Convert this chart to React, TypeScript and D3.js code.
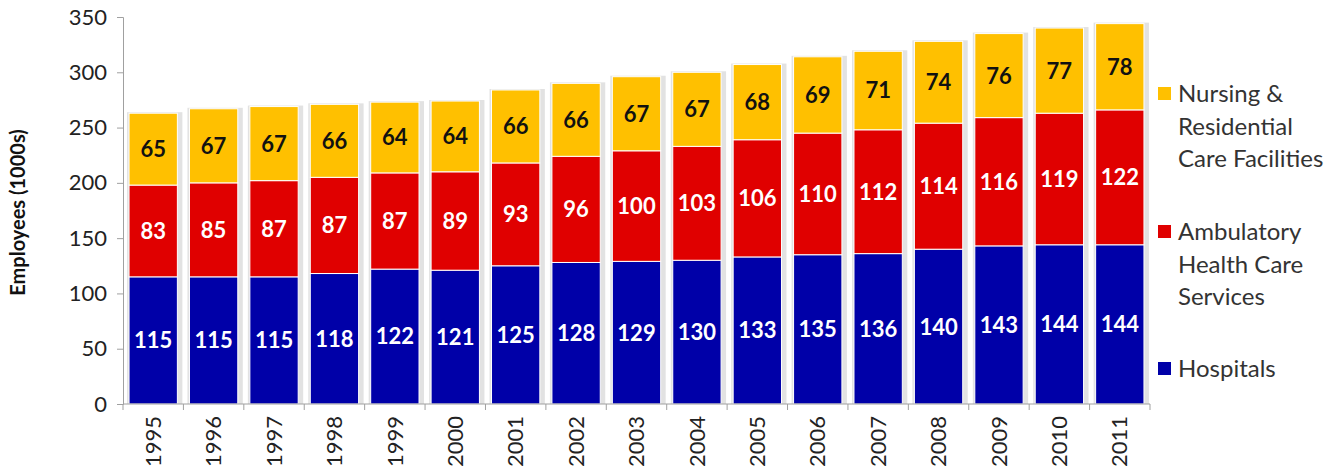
import React, { useRef, useEffect } from 'react';
import * as d3 from 'd3';

const years = ['1995', '1996', '1997', '1998', '1999', '2000', '2001', '2002', '2003', '2004', '2005', '2006', '2007', '2008', '2009', '2010', '2011'];
const hospitals = [115, 115, 115, 118, 122, 121, 125, 128, 129, 130, 133, 135, 136, 140, 143, 144, 144];
const ambulatory = [83, 85, 87, 87, 87, 89, 93, 96, 100, 103, 106, 110, 112, 114, 116, 119, 122];
const nursing = [65, 67, 67, 66, 64, 64, 66, 66, 67, 67, 68, 69, 71, 74, 76, 77, 78];
const yTicks = [0, 50, 100, 150, 200, 250, 300, 350];

const seriesKeys = ['hospitals', 'ambulatory', 'nursing'];
const seriesColors = ['#0000a8', '#e00000', '#ffc000'];
const labelColors = ['#ffffff', '#ffffff', '#111111'];
const legendLines = [
  ['Nursing &', 'Residential', 'Care Facilities'],
  ['Ambulatory', 'Health Care', 'Services'],
  ['Hospitals'],
];

const App = () => {
  const Svg = useRef<SVGSVGElement>(null);
  useEffect(() => {
    const width = 1339;
    const height = 475;
    const left = 123;
    const right = 1150;
    const top = 17;
    const bottom = 404;
    const font = 'Lato, "Open Sans", sans-serif';

    const svg = d3.select(Svg.current).attr('width', width).attr('height', height);
    svg.selectAll('*').remove();

    const table = years.map((y, i) => ({
      year: y,
      hospitals: hospitals[i],
      ambulatory: ambulatory[i],
      nursing: nursing[i],
    }));
    const stacked = d3.stack<any>().keys(seriesKeys)(table);

    const x = d3.scaleBand().domain(years).range([left, right]).paddingInner(0.2).paddingOuter(0.1);
    const y = d3.scaleLinear().domain([0, 350]).range([bottom, top]);

    // soft shadow round each bar
    svg
      .append('g')
      .selectAll('rect')
      .data(table)
      .enter()
      .append('rect')
      .attr('x', (d) => x(d.year)! - 2)
      .attr('y', (d) => y(d.hospitals + d.ambulatory + d.nursing) - 1)
      .attr('width', x.bandwidth() + 7)
      .attr('height', (d) => bottom - y(d.hospitals + d.ambulatory + d.nursing) + 1)
      .attr('fill', '#e2e2e2');

    stacked.forEach((layer, li) => {
      const g = svg.append('g');
      g.selectAll('rect')
        .data(layer)
        .enter()
        .append('rect')
        .attr('x', (d: any) => x(d.data.year)!)
        .attr('y', (d) => y(d[1]))
        .attr('width', x.bandwidth())
        .attr('height', (d) => y(d[0]) - y(d[1]))
        .attr('fill', seriesColors[li])
        .attr('stroke', '#ffffff')
        .attr('stroke-width', 1);
      g.selectAll('text')
        .data(layer)
        .enter()
        .append('text')
        .text((d) => d[1] - d[0])
        .attr('x', (d: any) => x(d.data.year)! + x.bandwidth() / 2)
        .attr('y', (d) => (y(d[0]) + y(d[1])) / 2)
        .attr('dy', '0.36em')
        .attr('text-anchor', 'middle')
        .attr('font-family', font)
        .attr('font-weight', 'bold')
        .attr('font-size', 22)
        .attr('fill', labelColors[li]);
    });

    // y axis
    const yAxis = d3.axisLeft(y).tickValues(yTicks).tickSize(6).tickPadding(10);
    const yg = svg.append('g').attr('transform', `translate(${left}, 0)`).call(yAxis);
    yg.select('.domain').attr('stroke', '#a0a0a0');
    yg.selectAll('.tick line').attr('stroke', '#a0a0a0');
    yg.selectAll('.tick text')
      .attr('font-family', font)
      .attr('font-size', 22)
      .attr('fill', '#222');

    // x axis
    const xg = svg.append('g').attr('transform', `translate(0, ${bottom})`);
    xg.append('line').attr('x1', left).attr('x2', right).attr('stroke', '#a0a0a0');
    const tickXs = d3.range(years.length + 1).map((i) => left + i * x.step() + (i === 0 ? 0 : x.step() * 0.1 - x.step() * 0.1));
    xg.selectAll('line.t')
      .data(tickXs)
      .enter()
      .append('line')
      .attr('class', 't')
      .attr('x1', (d) => d)
      .attr('x2', (d) => d)
      .attr('y1', 0)
      .attr('y2', 6)
      .attr('stroke', '#a0a0a0');
    xg.selectAll('text')
      .data(years)
      .enter()
      .append('text')
      .text((d) => d)
      .attr('transform', (d) => `translate(${x(d)! + x.bandwidth() / 2}, 12) rotate(-90)`)
      .attr('text-anchor', 'end')
      .attr('dy', '0.35em')
      .attr('font-family', font)
      .attr('font-size', 22)
      .attr('fill', '#222');

    // y title
    svg
      .append('text')
      .text('Employees (1000s)')
      .attr('transform', `translate(25, ${(top + bottom) / 2 + 2}) rotate(-90)`)
      .attr('text-anchor', 'middle')
      .attr('font-family', font)
      .attr('font-weight', 'bold')
      .attr('font-size', 20)
      .attr('fill', '#111');

    // legend
    const legendTop = [102, 240, 377];
    const legendOrder = [2, 1, 0];
    legendOrder.forEach((si, k) => {
      const ly = legendTop[k];
      svg
        .append('rect')
        .attr('x', 1158)
        .attr('y', ly - 15)
        .attr('width', 13)
        .attr('height', 13)
        .attr('fill', seriesColors[si]);
      legendLines[k].forEach((line, j) => {
        svg
          .append('text')
          .text(line)
          .attr('x', 1178)
          .attr('y', ly + j * 32.5)
          .attr('font-family', font)
          .attr('font-size', 24)
          .attr('fill', '#333');
      });
    });
  }, []);
  return <svg ref={Svg} style={{ position: 'absolute', left: 0, top: 0 }} />;
};

export default App;
